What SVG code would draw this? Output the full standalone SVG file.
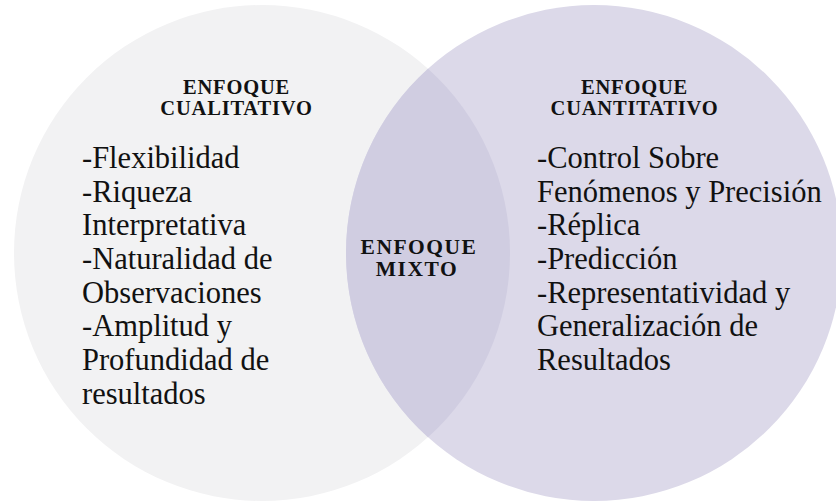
<svg xmlns="http://www.w3.org/2000/svg" width="836" height="502" viewBox="0 0 836 502">
<style>
.hdr{font-family:"Liberation Serif","Times New Roman",serif;font-weight:bold;font-size:20.5px;letter-spacing:0.8px;fill:#111;text-anchor:middle}
.mid{font-family:"Liberation Serif","Times New Roman",serif;font-weight:bold;font-size:21.5px;letter-spacing:1.5px;fill:#111;text-anchor:middle}
.body{font-family:"Liberation Serif","Times New Roman",serif;font-size:30.5px;fill:#111}
</style>
<rect width="836" height="502" fill="#ffffff"/>
<g id="node-cualitativo">
<circle cx="262" cy="253" r="248" fill="#f2f2f3"/>
</g>
<g id="node-cuantitativo">
<circle cx="594" cy="253" r="248" fill="#dcd9e9"/>
</g>
<g id="node-mixto">
<path d="M428,68.75 A248,248 0 0,0 428,437.25 A248,248 0 0,0 428,68.75 Z" fill="#d0cde1"/>
</g>
<g id="connectors"/>
<g id="label-cualitativo">
<text class="hdr" x="236.5" y="94">ENFOQUE</text>
<text class="hdr" x="236.5" y="115">CUALITATIVO</text>
<text class="body" x="82" y="168">-Flexibilidad</text>
<text class="body" x="82" y="202">-Riqueza</text>
<text class="body" x="82" y="235">Interpretativa</text>
<text class="body" x="82" y="269">-Naturalidad de</text>
<text class="body" x="82" y="303">Observaciones</text>
<text class="body" x="82" y="336">-Amplitud y</text>
<text class="body" x="82" y="370">Profundidad de</text>
<text class="body" x="82" y="404">resultados</text>
</g>
<g id="label-cuantitativo">
<text class="hdr" x="634.5" y="94">ENFOQUE</text>
<text class="hdr" x="634.5" y="115">CUANTITATIVO</text>
<text class="body" x="537" y="168">-Control Sobre</text>
<text class="body" x="537" y="202">Fenómenos y Precisión</text>
<text class="body" x="537" y="235">-Réplica</text>
<text class="body" x="537" y="269">-Predicción</text>
<text class="body" x="537" y="303">-Representatividad y</text>
<text class="body" x="537" y="336">Generalización de</text>
<text class="body" x="537" y="370">Resultados</text>
</g>
<g id="label-mixto">
<text class="mid" x="419" y="254">ENFOQUE</text>
<text class="mid" x="417" y="276">MIXTO</text>
</g>
</svg>
